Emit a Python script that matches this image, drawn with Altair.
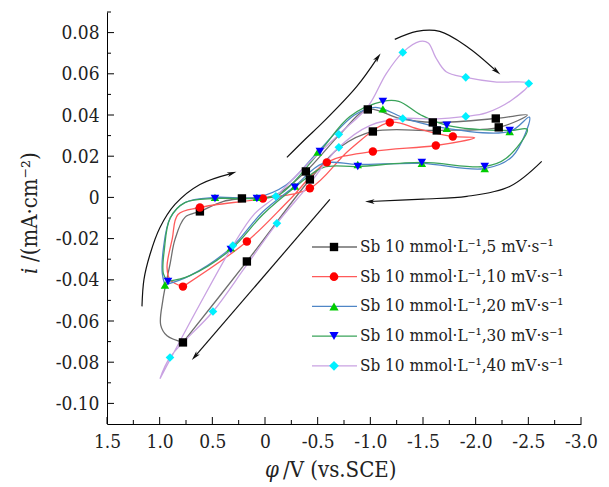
import altair as alt
import pandas as pd

# ---------------- data ----------------
series = ["5", "10", "20", "30", "40"]
labels = [
    "Sb 10 mmol·L⁻¹,5 mV·s⁻¹",
    "Sb 10 mmol·L⁻¹,10 mV·s⁻¹",
    "Sb 10 mmol·L⁻¹,20 mV·s⁻¹",
    "Sb 10 mmol·L⁻¹,30 mV·s⁻¹",
    "Sb 10 mmol·L⁻¹,40 mV·s⁻¹",
]

# curve paths (potential V, current mA/cm2), loop order
s5_x = [0.779, 0.93, 0.99, 0.97, 0.90, 0.855, 0.76, 0.618, 0.40, 0.219, -0.094, -0.388, -0.711, -0.976,
        -1.28, -1.593, -2.191, -2.49, -2.219, -1.631, -1.024, -0.711, -0.426, 0.172, 0.779]
s5_y = [-0.0704, -0.0672, -0.0620, -0.050, -0.032, -0.0205, -0.0097, -0.0068, -0.002, -0.0005, 0.0010, 0.0126,
        0.0306, 0.0427, 0.0383, 0.0364, 0.0383, 0.040, 0.0340, 0.0325, 0.0320, 0.0243, 0.0087, -0.0311, -0.0704]

s10_x = [0.779, 0.90, 0.93, 0.88, 0.826, 0.618, 0.020, -0.426, -0.806, -1.185, -1.47, -1.783, -1.99,
         -1.622, -1.024, -0.587, -0.236, 0.172, 0.779]
s10_y = [-0.0433, -0.040, -0.034, -0.020, -0.0083, -0.0049, -0.0005, 0.0044, 0.0233, 0.0364, 0.0330, 0.0296,
         0.029, 0.0252, 0.0223, 0.0170, -0.0010, -0.0214, -0.0433]

s20_x = [0.95, 0.975, 0.965, 0.90, 0.76, 0.475, 0.077, -0.2, -0.5, -0.85, -1.05, -1.35, -1.726, -2.323, -2.51,
         -2.35, -2.086, -1.489, -0.881, -0.55, -0.284, 0.020, 0.324, 0.713, 0.95]
s20_y = [-0.0425, -0.037, -0.025, -0.010, -0.0025, 0.0, 0.0, 0.006, 0.022, 0.040, 0.0437, 0.038, 0.0335, 0.0320,
         0.039, 0.020, 0.0140, 0.0165, 0.0160, 0.0165, 0.0055, -0.0070, -0.0245, -0.038, -0.0425]

s30_x = [0.921, 0.965, 0.955, 0.90, 0.76, 0.475, 0.077, -0.141, -0.521, -0.806, -1.119, -1.27, -1.48, -1.726,
         -2.323, -2.49, -2.29, -2.086, -1.489, -0.881, -0.55, -0.284, 0.020, 0.324, 0.713, 0.921]
s30_y = [-0.0408, -0.037, -0.025, -0.010, -0.0025, -0.0005, -0.0005, 0.0015, 0.0223, 0.0393, 0.0466, 0.0466,
         0.040, 0.0350, 0.0325, 0.033, 0.019, 0.0150, 0.0170, 0.0150, 0.0145, 0.0049, -0.0083, -0.0253, -0.0380,
         -0.0408]

s40_x = [0.997, 0.62, 0.305, 0.10, -0.103, -0.40, -0.701, -0.976, -1.15, -1.308, -1.47, -1.55, -1.62, -1.72,
         -1.906, -2.2, -2.504, -2.35, -2.1, -1.906, -1.6, -1.308, -1.0, -0.701, -0.40, -0.113, 0.19, 0.494, 0.902,
         0.997]
s40_y = [-0.088, -0.052, -0.0234, -0.008, 0.0005, 0.016, 0.0306, 0.044, 0.060, 0.0704, 0.0757, 0.0750, 0.0680,
         0.0610, 0.0583, 0.0560, 0.0553, 0.0475, 0.0410, 0.0393, 0.0380, 0.0383, 0.0350, 0.0243, 0.0050, -0.0126,
         -0.034, -0.0554, -0.0777, -0.088]

# marker positions
m5_x = [0.618, 0.219, -0.388, -0.976, -1.593, -2.191, -2.219, -1.631, -1.024, -0.426, 0.172, 0.779]
m5_y = [-0.0068, -0.0005, 0.0126, 0.0427, 0.0364, 0.0383, 0.0340, 0.0325, 0.0320, 0.0087, -0.0311, -0.0704]
m10_x = [0.618, 0.020, -0.426, -1.185, -1.783, -1.622, -1.024, -0.587, 0.172, 0.779]
m10_y = [-0.0049, -0.0005, 0.0044, 0.0364, 0.0296, 0.0252, 0.0223, 0.0170, -0.0214, -0.0433]
m20_x = [0.95, 0.475, 0.077, -0.5, -1.119, -1.726, -2.323, -2.086, -1.489, -0.881, -0.284, 0.324]
m20_y = [-0.0425, 0.0, 0.0, 0.022, 0.0430, 0.0335, 0.0320, 0.0140, 0.0165, 0.0160, 0.0055, -0.0245]
m30_x = [0.921, 0.475, 0.077, -0.521, -1.119, -1.726, -2.323, -2.086, -1.489, -0.881, -0.284, 0.324]
m30_y = [-0.0408, -0.0005, -0.0005, 0.0223, 0.0466, 0.0350, 0.0325, 0.0150, 0.0170, 0.0150, 0.0049, -0.0253]
m40_x = [0.305, -0.103, -0.701, -1.308, -1.906, -2.504, -1.906, -1.308, -0.701, -0.113, 0.494, 0.902]
m40_y = [-0.0234, 0.0005, 0.0306, 0.0704, 0.0583, 0.0553, 0.0393, 0.0383, 0.0243, -0.0126, -0.0554, -0.0777]

# scan-direction arrows
a1_x = [1.168, 1.149, 1.092, 0.997, 0.855, 0.618, 0.314]
a1_y = [-0.0529, -0.0398, -0.0277, -0.0146, -0.0034, 0.0063, 0.0117]
a2_x = [-0.208, -0.379, -0.549, -0.872, -1.071]
a2_y = [0.0194, 0.0281, 0.0364, 0.0539, 0.0680]
a3_x = [-1.232, -1.441, -1.659, -1.916, -2.2]
a3_y = [0.0767, 0.0806, 0.0806, 0.0733, 0.0612]
a4_x = [-2.627, -2.323, -1.916, -1.5, -0.995]
a4_y = [0.0175, 0.0053, 0.0005, -0.0008, -0.002]
a5_x = [-0.616, 0.665]
a5_y = [-0.001, -0.0772]
head_angles = [341, 306, 40, 180, 131]

y_major = [-0.10, -0.08, -0.06, -0.04, -0.02, 0.0, 0.02, 0.04, 0.06, 0.08]
y_minor = [-0.09, -0.07, -0.05, -0.03, -0.01, 0.01, 0.03, 0.05, 0.07, 0.09]
x_major = [1.5, 1.0, 0.5, 0.0, -0.5, -1.0, -1.5, -2.0, -2.5, -3.0]
x_minor = [1.25, 0.75, 0.25, -0.25, -0.75, -1.25, -1.75, -2.25, -2.75]

# ---------------- styles ----------------
line_colors = ["#6e6e6e", "#ff5a5a", "#4f86c6", "#3aa35a", "#c9a2e2"]
marker_colors = ["#000000", "#ff0000", "#00cc00", "#0000ff", "#00f0ff"]
shapes = ["square", "circle", "triangle-up", "triangle-down", "diamond"]
sizes = [70, 75, 85, 85, 95]
FONT = "DejaVu Serif Condensed, DejaVu Serif, serif"
W, H = 474, 412

curves = [(s5_x, s5_y), (s10_x, s10_y), (s20_x, s20_y), (s30_x, s30_y), (s40_x, s40_y)]
marks = [(m5_x, m5_y), (m10_x, m10_y), (m20_x, m20_y), (m30_x, m30_y), (m40_x, m40_y)]
arrows = [(a1_x, a1_y), (a2_x, a2_y), (a3_x, a3_y), (a4_x, a4_y), (a5_x, a5_y)]

line_rows, mark_rows, arrow_rows, head_rows = [], [], [], []
for k, name in enumerate(series):
    for i, (a, b) in enumerate(zip(*curves[k])):
        line_rows.append({"series": name, "idx": i, "x": a, "y": b})
    for a, b in zip(*marks[k]):
        mark_rows.append({"series": name, "x": a, "y": b})
for k, (xs, ys) in enumerate(arrows):
    for i, (a, b) in enumerate(zip(xs, ys)):
        arrow_rows.append({"arrow": k, "idx": i, "x": a, "y": b})
    head_rows.append({"arrow": k, "x": xs[-1], "y": ys[-1], "angle": head_angles[k]})

lines_df = pd.DataFrame(line_rows)
marks_df = pd.DataFrame(mark_rows)
arrows_df = pd.DataFrame(arrow_rows)
heads_df = pd.DataFrame(head_rows)
ymaj_df = pd.DataFrame({"y": y_major})
ymin_df = pd.DataFrame({"y": y_minor})
xmaj_df = pd.DataFrame({"x": x_major})
xmin_df = pd.DataFrame({"x": x_minor})

xscale = alt.Scale(domain=[-3.0, 1.5], reverse=True, nice=False, zero=False)
yscale = alt.Scale(domain=[-0.11, 0.09], nice=False, zero=False)
xaxis = alt.Axis(
    title=None, values=x_major, ticks=False, grid=False, domainColor="#000", domainWidth=1,
    labelFont=FONT, labelFontSize=19, labelColor="#222", labelPadding=8, labelFlush=False,
    labelExpr="datum.value == 0 ? '0' : (datum.value < 0 ? '-' : '') + format(abs(datum.value), '.1f')",
)
yaxis = alt.Axis(
    title=None, values=y_major, ticks=False, grid=False, domainColor="#000", domainWidth=1,
    labelFont=FONT, labelFontSize=19, labelColor="#222", labelPadding=8, labelFlush=False,
    labelExpr="datum.value == 0 ? '0' : (datum.value < 0 ? '-' : '') + format(abs(datum.value), '.2f')",
)
X = alt.X("x:Q", scale=xscale, axis=xaxis)
Y = alt.Y("y:Q", scale=yscale, axis=yaxis)

lines = alt.Chart(lines_df).mark_line(interpolate="catmull-rom", strokeWidth=1.3).encode(
    x=X, y=Y,
    color=alt.Color("series:N", scale=alt.Scale(domain=series, range=line_colors), legend=None),
    order="idx:Q", detail="series:N",
)
points = alt.Chart(marks_df).mark_point(filled=True, opacity=1).encode(
    x=X, y=Y,
    fill=alt.Fill("series:N", scale=alt.Scale(domain=series, range=marker_colors), legend=None),
    shape=alt.Shape("series:N", scale=alt.Scale(domain=series, range=shapes), legend=None),
    size=alt.Size("series:N", scale=alt.Scale(domain=series, range=sizes), legend=None),
)
arrow_lines = alt.Chart(arrows_df).mark_line(interpolate="catmull-rom", color="#111", strokeWidth=1.2).encode(
    x=X, y=Y, order="idx:Q", detail="arrow:N",
)
arrow_heads = alt.Chart(heads_df).mark_point(
    shape="M 1 0 L -1 -0.5 L -0.5 0 L -1 0.5 Z", filled=True, color="#111", size=90, opacity=1
).encode(x=X, y=Y, angle=alt.Angle("angle:Q", scale=None))

ytick_major = alt.Chart(ymaj_df).mark_rule(color="#000").encode(y=Y, x=alt.value(0), x2=alt.value(7))
ytick_minor = alt.Chart(ymin_df).mark_rule(color="#000").encode(y=Y, x=alt.value(0), x2=alt.value(4))
xtick_major = alt.Chart(xmaj_df).mark_rule(color="#000").encode(x=X, y=alt.value(H), y2=alt.value(H - 7))
xtick_minor = alt.Chart(xmin_df).mark_rule(color="#000").encode(x=X, y=alt.value(H), y2=alt.value(H - 4))

one = pd.DataFrame({"k": [0]})
legend_layers = []
for i in range(5):
    ry = 235 + i * 29.7
    legend_layers.append(alt.Chart(one).mark_rule(color=line_colors[i], strokeWidth=1.3).encode(
        x=alt.value(205), x2=alt.value(250), y=alt.value(ry)))
    legend_layers.append(alt.Chart(one).mark_point(
        shape=shapes[i], filled=True, color=marker_colors[i], size=sizes[i], opacity=1
    ).encode(x=alt.value(227), y=alt.value(ry)))
    legend_layers.append(alt.Chart(one).mark_text(
        text=labels[i], align="left", baseline="middle", font=FONT, fontSize=17, color="#222"
    ).encode(x=alt.value(253), y=alt.value(ry)))

titles = [
    alt.Chart(one).mark_text(text="φ", align="left", baseline="middle", font=FONT, fontSize=22,
                             fontStyle="italic", color="#222").encode(x=alt.value(158), y=alt.value(458)),
    alt.Chart(one).mark_text(text="/V (vs.SCE)", align="left", baseline="middle", font=FONT, fontSize=22,
                             color="#222").encode(x=alt.value(176), y=alt.value(458)),
    alt.Chart(one).mark_text(text="i", align="left", baseline="middle", font=FONT, fontSize=22,
                             fontStyle="italic", angle=270, color="#222").encode(x=alt.value(-77), y=alt.value(262)),
    alt.Chart(one).mark_text(text="/(mA·cm⁻²)", align="left", baseline="middle", font=FONT, fontSize=22,
                             angle=270, color="#222").encode(x=alt.value(-77), y=alt.value(250)),
]

chart = alt.layer(
    ytick_major, ytick_minor, xtick_major, xtick_minor,
    lines, arrow_lines, arrow_heads, points,
    *legend_layers, *titles,
).properties(
    width=W, height=H,
    autosize=alt.AutoSizeParams(type="none"),
    padding={"left": 107, "top": 12, "right": 28, "bottom": 63},
    background="white",
).configure_view(stroke=None)

chart.save("out.html", embed_options={"renderer": "svg", "actions": False})
